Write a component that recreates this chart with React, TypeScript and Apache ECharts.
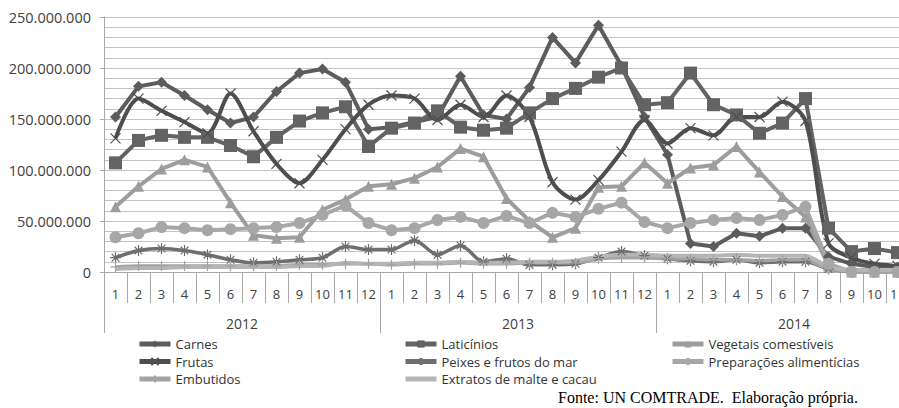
import React, { useEffect, useRef } from "react";
import * as echarts from "echarts";

const monthLabels = [
  "1", "2", "3", "4", "5", "6", "7", "8", "9", "10", "11", "12",
  "1", "2", "3", "4", "5", "6", "7", "8", "9", "10", "11", "12",
  "1", "2", "3", "4", "5", "6", "7", "8", "9", "10", "11", "12",
];
const years = ["2012", "2013", "2014"];

// values in millions (US$)
const carnes = [
  152, 182, 186, 173, 159, 146, 152, 177, 195, 199, 186, 140,
  142, 147, 152, 192, 154, 150, 181, 230, 205, 242, 202, 152,
  115, 28, 25, 38, 35, 43, 43, 15, 8, 5, 5, 4,
];
const laticinios = [
  107, 129, 134, 132, 132, 124, 113, 132, 148, 156, 162, 123,
  141, 146, 158, 142, 139, 141, 156, 170, 180, 191, 200, 164,
  166, 195, 164, 154, 136, 146, 170, 43, 20, 23, 19, 15,
];
const vegetais = [
  64, 84, 101, 110, 103, 68, 36, 33, 34, 61, 71, 84,
  86, 92, 103, 121, 113, 72, 50, 34, 43, 83, 84, 107,
  87, 102, 105, 123, 98, 74, 54, 6, 0, 0, 0, 0,
];
const frutas = [
  131, 170, 158, 147, 136, 175, 138, 106, 87, 110, 140, 164,
  173, 170, 149, 164, 152, 173, 152, 88, 71, 90, 118, 149,
  126, 141, 134, 152, 152, 167, 148, 28, 14, 8, 6, 5,
];
const peixes = [
  14, 21, 23, 21, 17, 12, 9, 10, 12, 14, 25, 22,
  22, 31, 17, 26, 10, 13, 7, 7, 8, 14, 20, 16,
  13, 11, 10, 12, 9, 10, 10, 3, 1, 1, 0, 0,
];
const preparacoes = [
  34, 38, 44, 43, 41, 42, 43, 44, 48, 56, 65, 48,
  41, 43, 51, 54, 48, 55, 48, 58, 54, 62, 68, 49,
  43, 48, 51, 53, 51, 56, 64, 8, 0, 0, 0, 0,
];
const embutidos = [
  5, 6, 6, 6, 6, 6, 6, 6, 7, 7, 8, 8,
  7, 8, 8, 9, 8, 8, 9, 9, 9, 13, 14, 14,
  13, 13, 12, 12, 11, 12, 12, 3, 1, 1, 1, 1,
];
const extratos = [
  3, 4, 4, 5, 5, 5, 5, 5, 6, 6, 9, 8,
  8, 9, 9, 10, 9, 9, 10, 10, 11, 15, 17, 17,
  16, 16, 16, 17, 16, 16, 16, 5, 2, 2, 2, 2,
];

const FONT = "'Open Sans', sans-serif";
const SYM_X = "path://M0,0L10,10M10,0L0,10";
const SYM_AST = "path://M5,0L5,10M0,5L10,5M1.5,1.5L8.5,8.5M8.5,1.5L1.5,8.5";
const SYM_PLUS = "path://M5,0L5,10M0,5L10,5";
const BAR_ICON = "path://M0,0L31,0L31,5L0,5Z";

function fmt(v: number) {
  if (v === 0) return "0";
  return String(Math.round(v)).replace(/\B(?=(\d{3})+(?!\d))/g, ".");
}

export default function App() {
  const ref = useRef<HTMLDivElement>(null);
  useEffect(() => {
    if (!ref.current) return;
    const chart = echarts.init(ref.current, null, { renderer: "svg" });
    const mk = (
      name: string,
      vals: number[],
      color: string,
      symbol: string,
      symbolSize: number,
      smooth: boolean | number,
      width = 4,
      stroke = false
    ) => ({
      name,
      type: "line",
      data: vals.map((v) => v * 1000000),
      smooth,
      symbol,
      symbolSize,
      showSymbol: symbol !== "none",
      lineStyle: { color, width },
      itemStyle: stroke
        ? { color: "transparent", borderColor: color, borderWidth: 1.2 }
        : { color, borderColor: color, borderWidth: 0 },
      emphasis: { disabled: true },
    });
    const legendBase = {
      orient: "vertical" as const,
      itemWidth: 31,
      itemHeight: 9,
      itemGap: 3.5,
      padding: 0,
      selectedMode: false,
      lineStyle: { width: 5 },
      textStyle: { fontFamily: FONT, fontSize: 13, color: "#333", lineHeight: 14 },
    };
    chart.setOption({
      animation: false,
      backgroundColor: "#ffffff",
      grid: { left: 104, top: 17, width: 828, height: 255, containLabel: false },
      legend: [
        { ...legendBase, left: 137, top: 337, data: ["Carnes", "Frutas", "Embutidos"] },
        {
          ...legendBase,
          left: 403,
          top: 337,
          data: ["Laticínios", "Peixes e frutos do mar", { name: "Extratos de malte e cacau", icon: BAR_ICON }],
        },
        { ...legendBase, left: 670, top: 337, data: ["Vegetais comestíveis", "Preparações alimentícias"] },
      ],
      xAxis: [
        {
          type: "category",
          data: monthLabels,
          boundaryGap: true,
          axisLine: { show: true, lineStyle: { color: "#a8a8a8", width: 1 } },
          axisTick: { show: true, length: 31, interval: 0, lineStyle: { color: "#a8a8a8" } },
          axisLabel: { interval: 0, margin: 15, fontFamily: FONT, fontSize: 13, color: "#404040" },
          splitLine: { show: false },
        },
        {
          type: "category",
          data: years,
          position: "bottom",
          boundaryGap: true,
          axisLine: { show: false },
          axisTick: { show: true, length: 61, interval: 0, lineStyle: { color: "#a8a8a8" } },
          axisLabel: { interval: 0, margin: 44, fontFamily: FONT, fontSize: 14, color: "#404040" },
          splitLine: { show: false },
        },
      ],
      yAxis: {
        type: "value",
        min: 0,
        max: 250000000,
        interval: 50000000,
        axisLine: { show: true, lineStyle: { color: "#a8a8a8" } },
        axisTick: { show: true, length: 4, lineStyle: { color: "#a8a8a8" } },
        axisLabel: { formatter: fmt, margin: 13, fontFamily: FONT, fontSize: 14.5, color: "#404040" },
        splitLine: { show: true, lineStyle: { color: "#c4c4c4", width: 1.2 } },
        minorTick: { show: false, splitNumber: 5 },
        minorSplitLine: { show: true, lineStyle: { color: "#c4c4c4", width: 1.2 } },
      },
      graphic: [
        {
          type: "text",
          left: 558,
          top: 389,
          style: {
            text: "Fonte: UN COMTRADE.  Elaboração própria.",
            font: "16px 'Liberation Serif', serif",
            fill: "#000",
          },
        },
      ],
      series: [
        mk("Carnes", carnes, "#5c5c5c", "diamond", 11, false),
        mk("Laticínios", laticinios, "#636363", "rect", 13, false),
        mk("Vegetais comestíveis", vegetais, "#9d9d9d", "triangle", 11, false),
        mk("Frutas", frutas, "#4e4e4e", SYM_X, 10, 0.3, 4, true),
        mk("Peixes e frutos do mar", peixes, "#6e6e6e", SYM_AST, 11, 0.3, 3.5, true),
        mk("Preparações alimentícias", preparacoes, "#a7a7a7", "circle", 12, false),
        mk("Embutidos", embutidos, "#a3a3a3", SYM_PLUS, 10, 0.2, 3.5, true),
        mk("Extratos de malte e cacau", extratos, "#b5b5b5", "none", 0, 0.2, 4),
      ],
    });
    return () => chart.dispose();
  }, []);
  return (
    <div
      style={{
        position: "fixed",
        left: 0,
        top: 0,
        width: 899,
        height: 408,
        overflow: "hidden",
        background: "#fff",
      }}
    >
      <div ref={ref} style={{ width: 940, height: 408 }} />
    </div>
  );
}
